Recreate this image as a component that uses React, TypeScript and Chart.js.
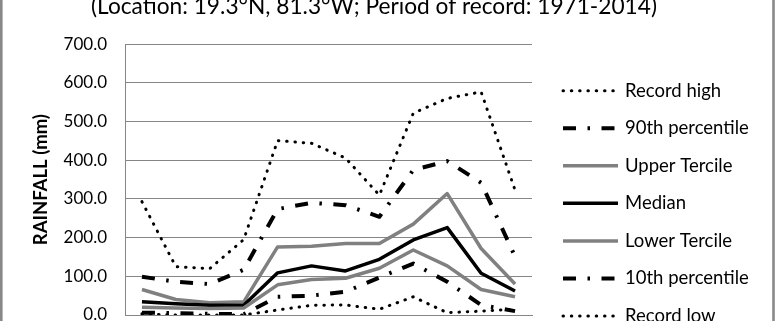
import React, { useEffect, useRef } from 'react';
import { Chart, registerables } from 'chart.js';

Chart.register(...registerables);

const months = ['Jan', 'Feb', 'Mar', 'Apr', 'May', 'Jun', 'Jul', 'Aug', 'Sep', 'Oct', 'Nov', 'Dec'];
const recordHigh = [293, 125, 120, 195, 451, 444, 406, 310, 522, 560, 577, 323];
const pct90 = [99, 86, 80, 117, 274, 290, 284, 254, 375, 398, 342, 151];
const upperTercile = [66, 40, 32, 34, 176, 178, 185, 185, 235, 314, 172, 80];
const median = [34, 29, 25, 25, 109, 127, 114, 144, 194, 226, 108, 62];
const lowerTercile = [20, 18, 17, 18, 78, 92, 95, 121, 168, 127, 66, 47];
const pct10 = [6, 5, 3, 2, 47, 50, 60, 97, 133, 86, 26, 10];
const recordLow = [3, 0, 0, 0, 13, 25, 26, 15, 47, 6, 10, 15];

const seriesNames = ['Record high', '90th percentile', 'Upper Tercile', 'Median', 'Lower Tercile', '10th percentile', 'Record low'];
const yMin = 0;
const yMax = 700;
const yStep = 100;
const titleText = '(Location: 19.3°N, 81.3°W; Period of record: 1971-2014)';
const yTitleText = 'RAINFALL (mm)';

const HIDDEN_TOP = 40;
const HIDDEN_BOTTOM = 40;
const W = 775;
const H = 321 + HIDDEN_TOP + HIDDEN_BOTTOM;

const GRID = '#868686';
const GRAY_LINE = '#808080';
const DOT = [0.5, 7.8];
const DASH_DOT = [13, 11.5, 2.5, 11.5];

const legendPlugin = {
  id: 'customLegend',
  afterDraw(chart: any) {
    const ctx = chart.ctx;
    const area = chart.chartArea;
    const x0 = area.right + 31;
    const x1 = x0 + 55;
    chart.data.datasets.forEach((ds: any, i: number) => {
      const y = area.top + 46.4 + i * 37.55;
      ctx.save();
      ctx.strokeStyle = ds.borderColor;
      ctx.lineWidth = ds.borderWidth;
      ctx.lineCap = ds.borderCapStyle || 'butt';
      ctx.setLineDash(ds.borderDash || []);
      ctx.beginPath();
      ctx.moveTo(x0, y);
      ctx.lineTo(x1, y);
      ctx.stroke();
      ctx.setLineDash([]);
      ctx.fillStyle = '#000';
      ctx.font = '18.5px Lato';
      ctx.textAlign = 'left';
      ctx.textBaseline = 'middle';
      ctx.fillText(ds.label, x1 + 7, y);
      ctx.restore();
    });
    ctx.save();
    ctx.fillStyle = '#898989';
    ctx.fillRect(0, 0, 2.6, chart.height);
    ctx.fillRect(772.2, 0, 2.6, chart.height);
    ctx.restore();
  },
};

export default function App() {
  const ref = useRef<HTMLCanvasElement>(null);
  useEffect(() => {
    if (!ref.current) return;
    const mk = (label: string, data: number[], color: string, width: number, dash: number[], cap: string, order: number) => ({
      label,
      data,
      borderColor: color,
      backgroundColor: color,
      borderWidth: width,
      borderDash: dash,
      borderCapStyle: cap,
      borderJoinStyle: 'round',
      pointRadius: 0,
      pointHoverRadius: 0,
      tension: 0,
      fill: false,
      order,
    });
    const chart = new Chart(ref.current, {
      type: 'line',
      data: {
        labels: months,
        datasets: [
          mk(seriesNames[0], recordHigh, '#000', 3, DOT, 'round', 7),
          mk(seriesNames[1], pct90, '#000', 4, DASH_DOT, 'butt', 6),
          mk(seriesNames[2], upperTercile, GRAY_LINE, 3.5, [], 'butt', 5),
          mk(seriesNames[3], median, '#000', 3.5, [], 'butt', 4),
          mk(seriesNames[4], lowerTercile, GRAY_LINE, 3.5, [], 'butt', 3),
          mk(seriesNames[5], pct10, '#000', 4, DASH_DOT, 'butt', 2),
          mk(seriesNames[6], recordLow, '#000', 3, DOT, 'round', 1),
        ] as any,
      },
      options: {
        responsive: false,
        animation: false,
        devicePixelRatio: 1,
        layout: { padding: { left: 0, right: 27, top: 0, bottom: 0 } },
        plugins: {
          legend: { display: false },
          tooltip: { enabled: false },
          title: {
            display: true,
            text: titleText,
            color: '#000',
            font: { family: 'Lato', size: 22.7, weight: 'normal' },
            padding: { top: 32.6, bottom: 24.46 },
          },
        },
        scales: {
          x: {
            type: 'category',
            offset: true,
            grid: { display: false },
            border: { display: true, color: GRID, width: 1 },
            ticks: { padding: 14, color: '#000', font: { family: 'Lato', size: 17 } },
            afterFit: (s: any) => { s.height = H - (315 + HIDDEN_TOP); },
          },
          y: {
            type: 'linear',
            position: 'left',
            min: yMin,
            max: yMax,
            ticks: {
              stepSize: yStep,
              padding: 18,
              color: '#000',
              font: { family: 'Lato', size: 17 },
              callback: (v: any) => Number(v).toFixed(1),
            },
            grid: { color: GRID, lineWidth: 1, drawTicks: false },
            border: { display: true, color: GRID, width: 1 },
            title: {
              display: true,
              text: yTitleText,
              color: '#000',
              font: { family: 'Lato', size: 18.5, weight: 'bold' },
              padding: { top: 30, bottom: 0 },
            },
            afterFit: (s: any) => { s.width = 125; },
          },
          yR: {
            type: 'linear',
            position: 'right',
            display: true,
            grid: { display: false },
            border: { display: false },
            ticks: { display: false },
            afterFit: (s: any) => { s.width = 216; },
          },
        },
      } as any,
      plugins: [legendPlugin],
    });
    return () => chart.destroy();
  }, []);
  return (
    <div style={{ position: 'fixed', left: 0, top: -HIDDEN_TOP, width: W, height: H, background: '#fff' }}>
      <canvas ref={ref} width={W} height={H} style={{ width: W, height: H, display: 'block' }} />
    </div>
  );
}
